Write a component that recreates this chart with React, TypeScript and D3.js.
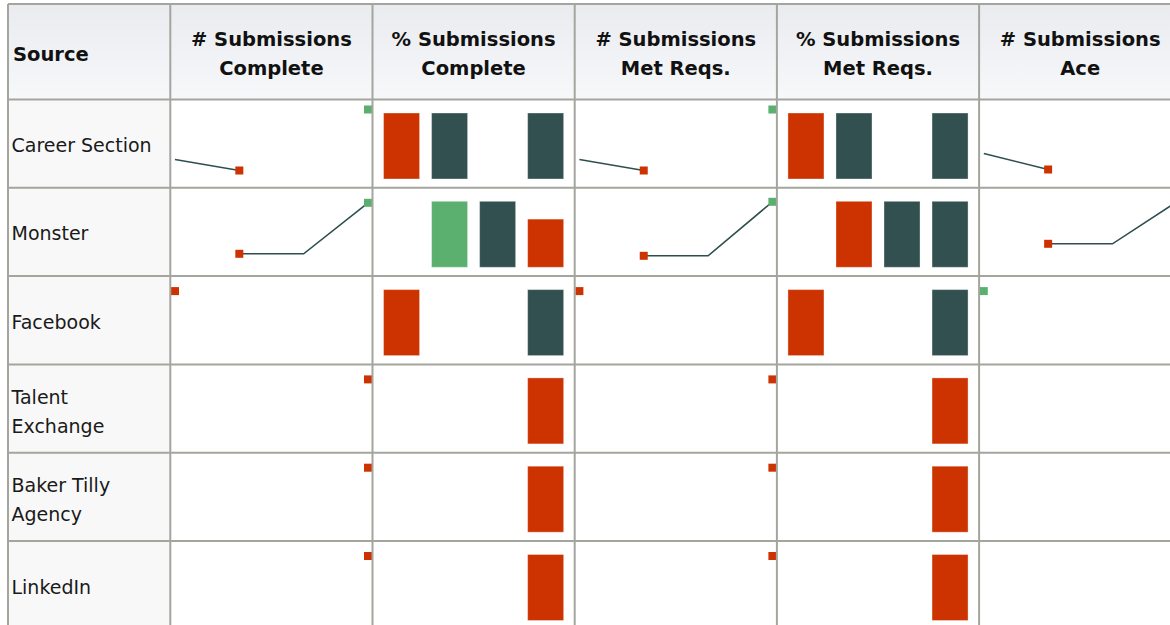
import React from "react";
import * as d3 from "d3";

// row labels (multi-line labels split into lines)
const sources = [
  ["Career Section"],
  ["Monster"],
  ["Facebook"],
  ["Talent", "Exchange"],
  ["Baker Tilly", "Agency"],
  ["LinkedIn"],
];

const headers = [
  ["Source"],
  ["# Submissions", "Complete"],
  ["% Submissions", "Complete"],
  ["# Submissions", "Met Reqs."],
  ["% Submissions", "Met Reqs."],
  ["# Submissions", "Ace"],
];

const periods = ["P1", "P2", "P3", "P4"];

// sparkline series, one array per source, null = no value
const submissionsComplete = [
  [24, 13, null, 74],
  [null, 18, 18, 69],
  [69, null, null, null],
  [null, null, null, 69],
  [null, null, null, 69],
  [null, null, null, 69],
];
const pctComplete = [
  [100, 100, null, 100],
  [null, 100, 100, 73],
  [100, null, null, 100],
  [null, null, null, 100],
  [null, null, null, 100],
  [null, null, null, 100],
];
const submissionsMetReqs = [
  [24, 13, null, 74],
  [null, 16, 16, 70],
  [69, null, null, null],
  [null, null, null, 69],
  [null, null, null, 69],
  [null, null, null, 69],
];
const pctMetReqs = [
  [100, 100, null, 100],
  [null, 100, 100, 100],
  [100, null, null, 100],
  [null, null, null, 100],
  [null, null, null, 100],
  [null, null, null, 100],
];
const submissionsAce = [
  [30, 14, null, 74],
  [null, 28, 28, 70],
  [69, null, null, 30],
  [null, null, null, null],
  [null, null, null, null],
  [null, null, null, null],
];

const columns = [
  { kind: "line", data: submissionsComplete },
  { kind: "bar", data: pctComplete },
  { kind: "line", data: submissionsMetReqs },
  { kind: "bar", data: pctMetReqs },
  { kind: "line", data: submissionsAce },
];

const RED = "#cc3300";
const GREEN = "#5bb070";
const DARK = "#325050";
const GRID = "#a4a59e";
const FONT = "'DejaVu Sans', Verdana, sans-serif";

const W = 1170;
const H = 625;
const tableLeft = 8;
const tableTop = 4;
const headerBottom = 99.5;
const rowH = 88.3;
const firstColW = 162.3;
const colW = 202.2;

type Val = number | null;

// first min gets the low marker, first max the high one (low wins a tie)
function markers(vals: Val[]) {
  let lo = -1;
  let hi = -1;
  vals.forEach((v, i) => {
    if (v == null) return;
    if (lo < 0 || v < (vals[lo] as number)) lo = i;
    if (hi < 0 || v > (vals[hi] as number)) hi = i;
  });
  return { lo, hi };
}

function colorFor(i: number, lo: number, hi: number) {
  if (i === lo) return RED;
  if (i === hi) return GREEN;
  return DARK;
}

function LineCell({ vals, x0, y0 }: { vals: Val[]; x0: number; y0: number }) {
  const x = d3.scalePoint<number>().domain(d3.range(periods.length)).range([x0 + 4.7, x0 + colW - 4.5]);
  const y = d3.scaleLinear().domain([0, 80]).range([y0 + 84, y0 + 4]);
  const line = d3
    .line<Val>()
    .defined((d) => d != null)
    .x((_, i) => x(i) as number)
    .y((d) => y(d as number));
  const { lo, hi } = markers(vals);
  const marked = [lo, hi].filter((v, i, a) => v >= 0 && a.indexOf(v) === i);
  return (
    <g>
      <path d={line(vals) || ""} fill="none" stroke="#2f4f4f" strokeWidth={1.6} />
      {marked.map((i) => (
        <rect
          key={i}
          x={(x(i) as number) - 4}
          y={y(vals[i] as number) - 4}
          width={8}
          height={8}
          fill={i === lo ? RED : GREEN}
        />
      ))}
    </g>
  );
}

function BarCell({ vals, x0, y0 }: { vals: Val[]; x0: number; y0: number }) {
  const x = d3
    .scaleBand<number>()
    .domain(d3.range(periods.length))
    .range([x0, x0 + colW])
    .paddingInner(0.25)
    .paddingOuter(0.23);
  const y = d3.scaleLinear().domain([0, 100]).range([y0 + 79.5, y0 + 13.5]);
  const { lo, hi } = markers(vals);
  return (
    <g>
      {vals.map((v, i) =>
        v == null ? null : (
          <rect
            key={i}
            x={x(i)}
            y={y(v)}
            width={x.bandwidth()}
            height={y(0) - y(v)}
            fill={colorFor(i, lo, hi)}
            stroke="#ffffff"
            strokeOpacity={0.35}
            strokeWidth={1}
          />
        )
      )}
    </g>
  );
}

export default function App() {
  const colX = [tableLeft, tableLeft + firstColW];
  for (let i = 0; i < columns.length; i++) colX.push(colX[colX.length - 1] + colW);
  const rowY = sources.map((_, i) => headerBottom + i * rowH);

  return (
    <svg width={W} height={H} style={{ position: "absolute", left: 0, top: 0, background: "#fff" }}>
      <defs>
        <linearGradient id="hdr" x1="0" y1="0" x2="0" y2="1">
          <stop offset="0" stopColor="#e9ebef" />
          <stop offset="1" stopColor="#f7f8fa" />
        </linearGradient>
      </defs>

      {/* backgrounds */}
      <rect x={tableLeft} y={tableTop} width={W} height={headerBottom - tableTop} fill="url(#hdr)" />
      <rect x={tableLeft} y={headerBottom} width={firstColW} height={H} fill="#f8f8f8" />

      {/* header text */}
      {headers.map((lines, c) => {
        const cx = c === 0 ? tableLeft + 5 : colX[c] + colW / 2;
        const mid = (tableTop + headerBottom) / 2;
        return (
          <text
            key={c}
            x={cx}
            textAnchor={c === 0 ? "start" : "middle"}
            fontFamily={FONT}
            fontWeight="bold"
            fontSize={19.5}
            fill="#111"
          >
            {lines.map((t, j) => (
              <tspan key={j} x={cx} y={mid + 9 - (lines.length - 1) * 14.5 + j * 29}>
                {t}
              </tspan>
            ))}
          </text>
        );
      })}

      {/* source labels */}
      {sources.map((lines, r) => {
        const mid = rowY[r] + rowH / 2;
        return (
          <text key={r} fontFamily={FONT} fontSize={19} fill="#1a1a1a">
            {lines.map((t, j) => (
              <tspan key={j} x={11.5} y={mid + 8.5 - (lines.length - 1) * 13.5 + j * 29.5}>
                {t}
              </tspan>
            ))}
          </text>
        );
      })}

      {/* sparklines */}
      {columns.map((col, c) =>
        col.data.map((vals, r) =>
          col.kind === "line" ? (
            <LineCell key={`${c}-${r}`} vals={vals} x0={colX[c + 1]} y0={rowY[r]} />
          ) : (
            <BarCell key={`${c}-${r}`} vals={vals} x0={colX[c + 1]} y0={rowY[r]} />
          )
        )
      )}

      {/* grid */}
      <g stroke={GRID} strokeWidth={2}>
        <line x1={tableLeft} x2={W} y1={tableTop} y2={tableTop} />
        {rowY.map((y, i) => (
          <line key={i} x1={tableLeft} x2={W} y1={y} y2={y} />
        ))}
        {colX.map((x, i) => (
          <line key={i} x1={x} x2={x} y1={tableTop} y2={H} />
        ))}
      </g>
    </svg>
  );
}
